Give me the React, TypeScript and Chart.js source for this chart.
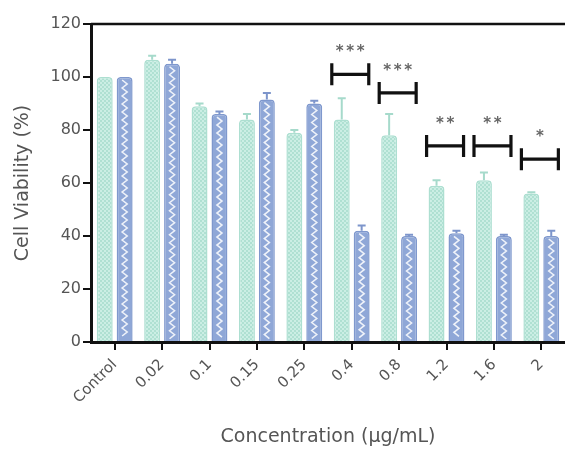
import React, { useEffect, useRef } from "react";
import { Chart, registerables } from "chart.js";

Chart.register(...registerables);

const categories = ["Control", "0.02", "0.1", "0.15", "0.25", "0.4", "0.8", "1.2", "1.6", "2"];
const seriesA = [100, 106.5, 89, 84, 79, 84, 78, 59, 61, 56];
const errA = [0, 1.5, 1, 2, 1, 8, 8, 2, 3, 0.5];
const seriesB = [100, 105, 86, 91.5, 90, 42, 40, 41, 40, 40];
const errB = [0, 1.5, 1, 2.5, 1, 2, 0.5, 1, 0.5, 2];
const sigIndex = [5, 6, 7, 8, 9];
const sigY = [101, 94, 74, 74, 69];
const sigLabel = ["***", "***", "**", "**", "*"];
const yTicks = [0, 20, 40, 60, 80, 100, 120];

const FONT = "'DejaVu Sans', Verdana, sans-serif";

function makeTealPattern(ctx: CanvasRenderingContext2D) {
  const c = document.createElement("canvas");
  c.width = 4;
  c.height = 4;
  const g = c.getContext("2d")!;
  g.fillStyle = "#cbeee4";
  g.fillRect(0, 0, 4, 4);
  g.fillStyle = "#afe0d2";
  g.fillRect(0, 0, 2, 2);
  g.fillRect(2, 2, 2, 2);
  return ctx.createPattern(c, "repeat")!;
}

const decorPlugin = {
  id: "decor",
  afterDatasetsDraw(chart: any) {
    const ctx = chart.ctx as CanvasRenderingContext2D;
    const x = chart.scales.x;
    const y = chart.scales.y;
    const area = chart.chartArea;
    ctx.save();
    // zig-zag texture on blue bars
    const metaB = chart.getDatasetMeta(1);
    metaB.data.forEach((bar: any) => {
      const cx = bar.x;
      const top = bar.y + 3;
      const bottom = bar.base - 2;
      ctx.strokeStyle = "rgba(255,255,255,0.85)";
      ctx.lineWidth = 1.6;
      ctx.beginPath();
      let k = 0;
      for (let py = top; py <= bottom; py += 4) {
        const px = cx + (k % 2 === 0 ? -2.5 : 2.5);
        if (k === 0) ctx.moveTo(px, py);
        else ctx.lineTo(px, py);
        k++;
      }
      ctx.stroke();
    });
    // error bars
    const drawErr = (metaIdx: number, errs: number[], vals: number[], color: string) => {
      const meta = chart.getDatasetMeta(metaIdx);
      meta.data.forEach((bar: any, i: number) => {
        if (!errs[i]) return;
        const yTop = y.getPixelForValue(vals[i] + errs[i]);
        ctx.strokeStyle = color;
        ctx.lineWidth = 2;
        ctx.beginPath();
        ctx.moveTo(bar.x, bar.y);
        ctx.lineTo(bar.x, yTop);
        ctx.moveTo(bar.x - 4, yTop);
        ctx.lineTo(bar.x + 4, yTop);
        ctx.stroke();
      });
    };
    drawErr(0, errA, seriesA, "#a6dacb");
    drawErr(1, errB, seriesB, "#7d95cb");
    // significance brackets
    const cw = x.width / categories.length;
    sigIndex.forEach((ci, j) => {
      const c = x.getPixelForValue(ci);
      const x1 = c - 0.42 * cw;
      const x2 = c + 0.36 * cw;
      const py = y.getPixelForValue(sigY[j]);
      ctx.strokeStyle = "#111";
      ctx.lineWidth = 3.2;
      ctx.beginPath();
      ctx.moveTo(x1, py);
      ctx.lineTo(x2, py);
      ctx.moveTo(x1, py - 11);
      ctx.lineTo(x1, py + 11);
      ctx.moveTo(x2, py - 11);
      ctx.lineTo(x2, py + 11);
      ctx.stroke();
      ctx.fillStyle = "#666";
      ctx.font = `bold 15px ${FONT}`;
      ctx.textAlign = "center";
      ctx.textBaseline = "middle";
      const n = sigLabel[j].length;
      const pitch = 10.5;
      const mid = (x1 + x2) / 2;
      for (let s = 0; s < n; s++) {
        ctx.fillText("*", mid + (s - (n - 1) / 2) * pitch, py - 22);
      }
    });
    // top frame line
    ctx.strokeStyle = "#111";
    ctx.lineWidth = 2.5;
    ctx.beginPath();
    ctx.moveTo(area.left, area.top);
    ctx.lineTo(chart.width, area.top);
    ctx.stroke();
    ctx.restore();
  },
};

export default function App() {
  const ref = useRef<HTMLCanvasElement | null>(null);
  useEffect(() => {
    const canvas = ref.current!;
    const ctx = canvas.getContext("2d")!;
    const chart = new Chart(canvas, {
      type: "bar",
      data: {
        labels: categories,
        datasets: [
          {
            data: seriesA,
            backgroundColor: makeTealPattern(ctx) as any,
            borderColor: "#addfd1",
            borderWidth: 1.5,
            borderRadius: { topLeft: 4, topRight: 4 } as any,
            borderSkipped: "bottom",
            barPercentage: 0.8,
            categoryPercentage: 0.84,
          },
          {
            data: seriesB,
            backgroundColor: "#8fa7d7",
            borderColor: "#7f98cd",
            borderWidth: 1.5,
            borderRadius: { topLeft: 4, topRight: 4 } as any,
            borderSkipped: "bottom",
            barPercentage: 0.8,
            categoryPercentage: 0.84,
          },
        ],
      },
      options: {
        responsive: false,
        animation: false,
        layout: { padding: { top: 24, left: 0, right: 0, bottom: 0 } },
        plugins: { legend: { display: false }, tooltip: { enabled: false } },
        scales: {
          x: {
            offset: true,
            grid: { display: true, drawOnChartArea: false, drawTicks: true, tickLength: 8, color: "#111", lineWidth: 2, offset: false },
            border: { color: "#111", width: 3 },
            ticks: { color: "#555", font: { family: FONT, size: 15 }, maxRotation: 45, minRotation: 45, padding: 6 },
            title: { display: true, text: "Concentration (µg/mL)", color: "#555", font: { family: FONT, size: 19 }, padding: { top: 0, bottom: 4 } },
            afterFit: (s: any) => {
              s.height = 110;
            },
          },
          y: {
            min: 0,
            max: 120,
            afterBuildTicks: (s: any) => {
              s.ticks = yTicks.map((v) => ({ value: v }));
            },
            grid: { display: true, drawOnChartArea: false, drawTicks: true, tickLength: 8, color: "#111", lineWidth: 2 },
            border: { color: "#111", width: 3 },
            ticks: { color: "#555", font: { family: FONT, size: 16 }, padding: 2 },
            title: { display: true, text: "Cell Viability (%)", color: "#555", font: { family: FONT, size: 19 }, padding: { top: 12, bottom: 4 } },
            afterFit: (s: any) => {
              s.width = 91;
            },
          },
        },
      },
      plugins: [decorPlugin],
    });
    return () => chart.destroy();
  }, []);
  return (
    <div style={{ position: "fixed", left: 0, top: 0, width: 565, height: 452, background: "#fff" }}>
      <canvas ref={ref} width={565} height={452} style={{ width: 565, height: 452 }} />
    </div>
  );
}
